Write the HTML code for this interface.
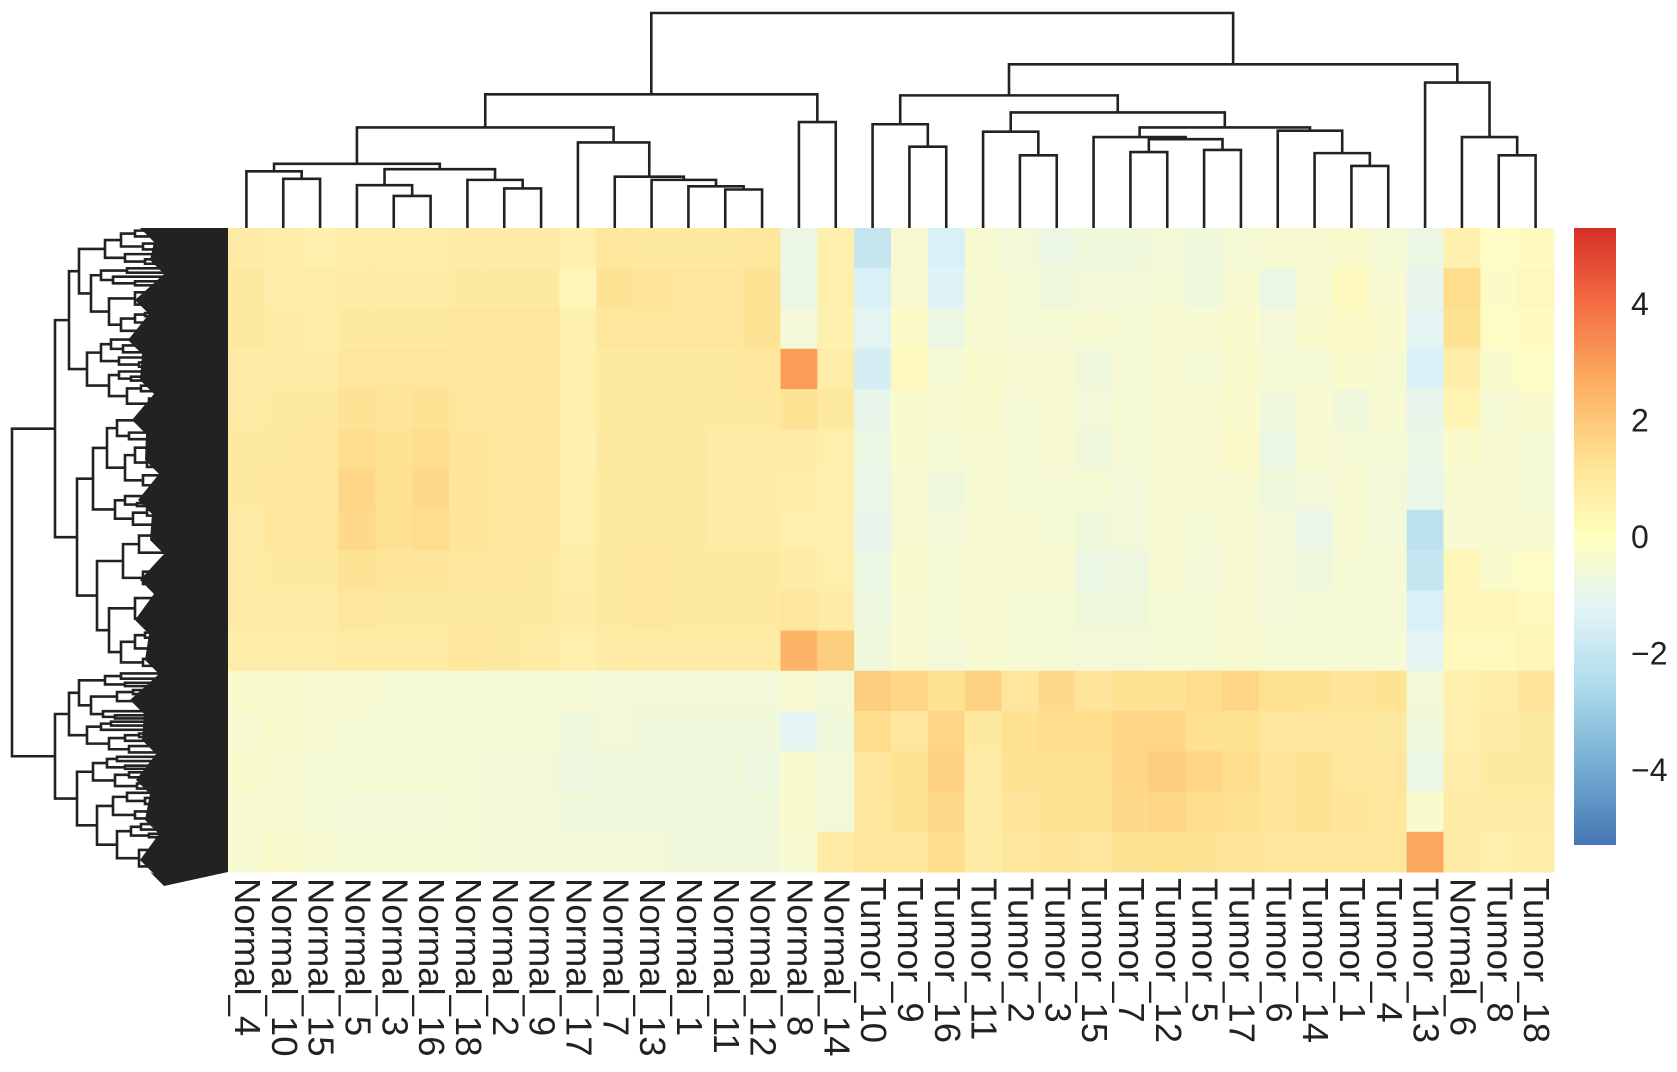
<!DOCTYPE html>
<html><head><meta charset="utf-8">
<style>
html,body{margin:0;padding:0;background:#fff;}
svg{display:block;}
text{font-family:"Liberation Sans",Arial,sans-serif;fill:#222;}
</style></head>
<body>
<svg id="chart" width="1677" height="1072" viewBox="0 0 1677 1072" xmlns="http://www.w3.org/2000/svg">
  <defs>
    <linearGradient id="cbar" x1="0" y1="1" x2="0" y2="0">
      <stop offset="0" stop-color="#4575b4"/>
      <stop offset="0.125" stop-color="#74add1"/>
      <stop offset="0.25" stop-color="#abd9e9"/>
      <stop offset="0.375" stop-color="#e0f3f8"/>
      <stop offset="0.5" stop-color="#ffffbf"/>
      <stop offset="0.625" stop-color="#fee090"/>
      <stop offset="0.75" stop-color="#fdae61"/>
      <stop offset="0.875" stop-color="#f46d43"/>
      <stop offset="1" stop-color="#d73027"/>
    </linearGradient>
  </defs>
  <g id="row-dendro"></g>
  <g id="col-dendro" fill="none" stroke="#222" stroke-width="2.6"></g>
  <g id="heat"></g>
  <g id="xlabels"></g>
  <g id="cbar-g"></g>
</svg>
<script>
const columns = ["Normal_4","Normal_10","Normal_15","Normal_5","Normal_3","Normal_16","Normal_18","Normal_2","Normal_9","Normal_17","Normal_7","Normal_13","Normal_1","Normal_11","Normal_12","Normal_8","Normal_14","Tumor_10","Tumor_9","Tumor_16","Tumor_11","Tumor_2","Tumor_3","Tumor_15","Tumor_7","Tumor_12","Tumor_5","Tumor_17","Tumor_6","Tumor_14","Tumor_1","Tumor_4","Tumor_13","Normal_6","Tumor_8","Tumor_18"];
// values per column, 16 row bands (top to bottom)
const values = [
[0.8,0.9,0.9,0.8,0.8,0.9,0.9,0.8,0.8,0.8,0.7,-0.2,-0.3,-0.2,-0.3,-0.3],
[0.7,0.7,0.8,0.8,0.9,0.9,1.0,1.0,0.9,0.8,0.7,-0.2,-0.2,-0.3,-0.3,-0.2],
[0.6,0.7,0.7,0.8,0.9,1.0,1.0,1.0,0.9,0.8,0.7,-0.3,-0.3,-0.4,-0.4,-0.3],
[0.7,0.8,0.9,1.0,1.2,1.4,1.6,1.5,1.2,1.0,0.8,-0.3,-0.4,-0.4,-0.5,-0.4],
[0.7,0.8,0.9,1.0,1.1,1.2,1.3,1.3,1.1,0.9,0.8,-0.4,-0.4,-0.4,-0.5,-0.4],
[0.7,0.8,0.9,1.0,1.2,1.4,1.5,1.4,1.1,0.9,0.8,-0.4,-0.4,-0.4,-0.5,-0.4],
[0.8,0.9,1.0,1.0,1.0,1.1,1.1,1.1,1.0,0.9,1.0,-0.4,-0.4,-0.4,-0.4,-0.4],
[0.8,0.9,1.0,1.0,1.0,1.0,1.0,1.0,1.0,0.9,0.9,-0.4,-0.4,-0.5,-0.5,-0.5],
[0.8,0.9,1.0,1.0,1.0,1.0,1.0,1.0,0.9,0.9,0.8,-0.4,-0.4,-0.5,-0.5,-0.5],
[0.6,0.3,0.5,0.6,0.6,0.5,0.6,0.6,0.7,0.8,0.6,-0.4,-0.6,-0.7,-0.6,-0.5],
[1.0,1.2,1.0,0.9,0.9,0.9,0.9,0.9,0.9,0.9,0.8,-0.5,-0.5,-0.6,-0.6,-0.5],
[0.9,1.1,1.0,0.9,0.9,0.9,0.9,0.9,1.0,1.0,0.8,-0.5,-0.6,-0.6,-0.6,-0.5],
[0.9,1.0,1.0,0.9,0.9,0.9,0.9,0.9,0.9,0.9,0.8,-0.5,-0.6,-0.6,-0.6,-0.6],
[0.9,1.0,1.0,0.9,0.9,0.8,0.8,0.8,0.9,0.9,0.8,-0.5,-0.6,-0.6,-0.6,-0.6],
[1.0,1.2,1.2,1.0,0.9,0.8,0.8,0.8,0.9,0.9,0.8,-0.5,-0.6,-0.7,-0.6,-0.6],
[-0.8,-0.8,-0.5,3.0,1.2,0.8,0.7,0.6,0.8,1.0,2.5,-0.3,-1.2,-0.2,-0.2,-0.3],
[0.6,0.6,0.5,0.7,0.9,0.6,0.5,0.6,0.6,0.8,1.8,-0.5,-0.6,-0.5,-0.5,0.8],
[-2.0,-1.5,-1.2,-1.6,-1.0,-0.8,-0.9,-1.0,-0.8,-0.7,-0.6,1.8,1.4,1.0,1.0,1.0],
[-0.3,-0.3,-0.1,0.2,-0.2,-0.2,-0.3,-0.3,-0.2,-0.3,-0.3,1.6,1.0,1.3,1.2,1.0],
[-1.5,-1.3,-0.8,-0.4,-0.3,-0.4,-0.6,-0.5,-0.4,-0.4,-0.5,1.3,1.6,1.7,1.5,1.4],
[-0.3,-0.3,-0.3,-0.2,-0.2,-0.3,-0.3,-0.3,-0.3,-0.3,-0.3,1.7,0.9,0.8,0.8,0.8],
[-0.5,-0.4,-0.4,-0.3,-0.4,-0.4,-0.4,-0.3,-0.3,-0.4,-0.4,1.0,1.3,1.3,1.1,1.0],
[-0.8,-0.6,-0.4,-0.3,-0.3,-0.3,-0.4,-0.4,-0.3,-0.4,-0.4,1.5,1.4,1.2,1.2,1.1],
[-0.6,-0.5,-0.3,-0.6,-0.5,-0.6,-0.4,-0.6,-0.8,-0.6,-0.5,1.1,1.4,1.3,1.2,1.0],
[-0.6,-0.5,-0.4,-0.4,-0.4,-0.4,-0.5,-0.5,-0.7,-0.6,-0.5,1.3,1.6,1.6,1.5,1.2],
[-0.5,-0.4,-0.3,-0.3,-0.3,-0.3,-0.3,-0.3,-0.3,-0.4,-0.4,1.2,1.6,1.8,1.6,1.3],
[-0.6,-0.6,-0.3,-0.4,-0.3,-0.3,-0.3,-0.4,-0.5,-0.4,-0.4,1.4,1.3,1.6,1.4,1.2],
[-0.4,-0.3,-0.2,-0.2,-0.2,-0.1,-0.3,-0.3,-0.3,-0.3,-0.3,1.6,1.3,1.4,1.3,1.1],
[-0.3,-0.8,-0.5,-0.4,-0.6,-0.8,-0.6,-0.5,-0.5,-0.5,-0.4,1.3,1.0,1.1,1.1,1.0],
[-0.3,-0.3,-0.2,-0.4,-0.3,-0.3,-0.5,-0.9,-0.6,-0.4,-0.4,1.2,1.0,1.2,1.2,1.0],
[-0.2,0.1,-0.1,-0.2,-0.6,-0.4,-0.3,-0.3,-0.4,-0.4,-0.4,1.1,1.0,1.0,1.1,1.0],
[-0.4,-0.3,-0.2,-0.3,-0.3,-0.4,-0.5,-0.5,-0.4,-0.4,-0.4,1.2,0.9,1.0,1.0,1.0],
[-0.8,-1.0,-1.2,-1.5,-1.0,-0.8,-0.9,-2.2,-2.0,-1.5,-1.2,-0.5,-0.6,-0.8,-0.2,2.8],
[0.5,1.4,1.2,0.7,0.4,-0.2,-0.3,-0.3,0.3,0.3,0.2,0.6,0.6,0.7,0.8,0.8],
[0.0,-0.1,0.0,-0.2,-0.4,-0.3,-0.3,-0.3,-0.2,0.3,0.2,0.7,0.8,0.9,0.8,0.6],
[0.1,0.2,0.1,0.0,-0.2,-0.4,-0.4,-0.3,0.0,0.2,0.3,1.1,0.9,0.9,0.8,0.7]
];
const colorTicks = [4,2,0,-2,-4];
// column dendrogram merges: [left node, right node, height]
const merges = [
[1,2,46],[0,36,53],[4,5,30],[3,38,40],[7,8,37],[6,40,45],[39,41,55],[37,42,60],
[13,14,36],[12,44,39],[11,45,45],[10,46,48],[9,47,80],[43,48,94],[15,16,99],[49,50,125],
[18,19,76],[17,52,97],[21,22,68],[20,54,90],[24,25,71],[26,27,73],[56,57,83],[23,58,85],
[30,31,58],[29,60,70],[28,61,91],[59,62,94],[55,63,108],[53,64,124],[34,35,68],[33,66,85],[32,67,136],[65,68,153],[51,69,201]
];
const vmin=-5.3, vmax=5.3;
const HX0=228, HX1=1554, HY0=228, HY1=872;
const NC=columns.length, NB=values[0].length;
const cw=(HX1-HX0)/NC;
const xScale = i => HX0 + (i+0.5)*cw;
const yBand = b => HY0 + b*(HY1-HY0)/NB;
const dScale = h => HY0 - h*(HY0-13)/201;
const cbY = v => 537 - v*(845-228)/(vmax-vmin);
const stops=[[69,117,180],[116,173,209],[171,217,233],[224,243,248],[254,252,196],[254,224,144],[253,174,97],[244,109,67],[215,48,39]];
function color(v){
  let t=(v-vmin)/(vmax-vmin); t=Math.max(0,Math.min(1,t))*(stops.length-1);
  const i=Math.min(stops.length-2,Math.floor(t)), f=t-i;
  const c=stops[i].map((s,k)=>Math.round(s+(stops[i+1][k]-s)*f));
  return `rgb(${c[0]},${c[1]},${c[2]})`;
}
const NS="http://www.w3.org/2000/svg";
function mk(tag,attrs,parent){const e=document.createElementNS(NS,tag);for(const k in attrs)e.setAttribute(k,attrs[k]);parent.appendChild(e);return e;}
const heat=document.getElementById('heat');
values.forEach((col,i)=>{
  col.forEach((v,b)=>{
    const r=mk('rect',{x:HX0+i*cw,y:yBand(b),width:cw+0.5,height:yBand(b+1)-yBand(b)+0.5,fill:color(v)},heat);
    
    
  });
});
// column dendrogram
const cd=document.getElementById('col-dendro');
const pos=[];const ht=[];
for(let i=0;i<NC;i++){pos.push(xScale(i));ht.push(0);}
merges.forEach(m=>{
  const [a,b,h]=m;
  const xa=pos[a],xb=pos[b],y=dScale(h);
  const p=mk('path',{d:`M${xa},${dScale(ht[a])}V${y}H${xb}V${dScale(ht[b])}`},cd);
  
  
  pos.push((xa+xb)/2);ht.push(h);
});
// column labels
const xl=document.getElementById('xlabels');
columns.forEach((c,i)=>{
  const t=mk('text',{transform:`translate(${xScale(i)+1},878) rotate(90)`,'font-size':36.5,'dominant-baseline':'central'},xl);
  t.textContent=c;
  
  
});
// colorbar
const cb=document.getElementById('cbar-g');
mk('rect',{x:1574,y:228,width:42,height:617,fill:'url(#cbar)'},cb);
colorTicks.forEach(v=>{
  const t=mk('text',{x:1631,y:cbY(v),'font-size':32,'dominant-baseline':'central'},cb);
  t.textContent=v<0?'\u2212'+Math.abs(v):String(v);
  
  
});
// row dendrogram (decorative tree structure)
const rd=document.getElementById('row-dendro');
const ratios=[0.42,0.58,0.35,0.62,0.5,0.45,0.66,0.38,0.55,0.3];
const steps=[14,22,10,18,26,12,16,20];
let ri=0, si=0, dpath='';
function tree(y0,y1,x){
  const yc=(y0+y1)/2;
  if(x>=150||y1-y0<6){dpath+=`M${x},${yc}H228`;return yc;}
  const r=ratios[ri++%ratios.length];
  const ym=y0+(y1-y0)*r;
  const xa=x+steps[si++%steps.length], xb=x+steps[si++%steps.length];
  const c1=tree(y0,ym,xa), c2=tree(ym,y1,xb);
  dpath+=`M${xa},${c1}H${x}V${c2}H${xb}`;
  return (c1+c2)/2;
}
// root split at cluster boundary
const split=HY0+(HY1-HY0)*11/16;
const t1=tree(HY0,split,55), t2=tree(split,HY1,55);
dpath+=`M55,${t1}H12V${t2}H55`;
mk('path',{d:dpath,fill:'none',stroke:'#222','stroke-width':2.6},rd);
let poly='M228,228 ';
const edge=[[228,140],[260,150],[300,135],[340,128],[380,140],[420,132],[460,145],[500,138],[540,150],[580,140],[620,135],[660,145],[700,130],[740,142],[780,136],[820,145],[860,140],[872,150]];
edge.forEach(e=>{poly+=`L${e[1]},${e[0]} L${e[1]+14},${e[0]+14} `;});
poly+='L228,872 Z';
mk('path',{d:poly,fill:'#222'},rd);
</script>
</body></html>
